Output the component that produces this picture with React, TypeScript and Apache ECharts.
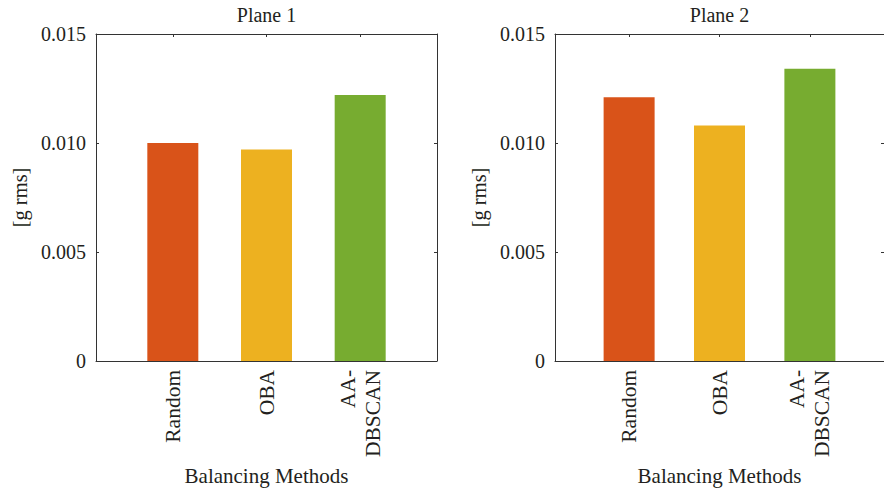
import React, { useEffect, useRef } from "react";
import * as echarts from "echarts";

// Balancing methods compared in each plane
const methods = ["Random", "OBA", "AA-DBSCAN"];
const methodColors = ["#D95319", "#EDB120", "#77AC30"];

// Residual vibration, g rms
const plane1Values = [0.01, 0.0097, 0.0122];
const plane2Values = [0.0121, 0.0108, 0.0134];

const planeTitles = ["Plane 1", "Plane 2"];
const yTicks = [0, 0.005, 0.01, 0.015];

const FONT = "Liberation Serif";
const TEXT = "#231f20";
const AXIS = "#333333";

export default function App() {
  const ref = useRef<HTMLDivElement>(null);

  useEffect(() => {
    if (!ref.current) return;
    const chart = echarts.init(ref.current, undefined, { renderer: "svg" });

    const positions = methods.map((_, i) => i + 1);
    const gridLefts = [96, 555];
    const series = [plane1Values, plane2Values];

    const xAxes: any[] = [];
    const yAxes: any[] = [];
    const grids: any[] = [];
    const barSeries: any[] = [];

    gridLefts.forEach((left, g) => {
      grids.push({ left, top: 32, width: 341, height: 334, containLabel: false });

      const lineStyle = { color: AXIS, width: 1 };
      // bottom category labels
      xAxes.push({
        type: "value",
        gridIndex: g,
        position: "bottom",
        min: 0.18,
        max: 3.82,
        splitLine: { show: false },
        axisLine: { show: true, onZero: false, lineStyle },
        axisTick: { show: true, inside: true, length: 3, customValues: positions, lineStyle },
        axisLabel: {
          customValues: positions,
          rotate: 90,
          margin: 9,
          fontFamily: FONT,
          fontSize: 21.5,
          color: TEXT,
          lineHeight: 25,
          formatter: (v: number) => (methods[Math.round(v) - 1] || "").replace("-", "-\n"),
        },
        name: "Balancing Methods",
        nameLocation: "middle",
        nameGap: 97,
        nameTextStyle: { fontFamily: FONT, fontSize: 21, color: TEXT },
      });
      // top mirror with plot title
      xAxes.push({
        type: "value",
        gridIndex: g,
        position: "top",
        min: 0.18,
        max: 3.82,
        splitLine: { show: false },
        axisLine: { show: true, onZero: false, lineStyle },
        axisTick: { show: true, inside: true, length: 3, customValues: positions, lineStyle },
        axisLabel: { show: false, customValues: positions },
        name: planeTitles[g],
        nameLocation: "middle",
        nameGap: 9,
        nameTextStyle: { fontFamily: FONT, fontSize: 20, color: TEXT },
      });
      yAxes.push({
        type: "value",
        gridIndex: g,
        position: "left",
        min: 0,
        max: 0.015,
        interval: 0.005,
        splitLine: { show: false },
        axisLine: { show: true, onZero: false, lineStyle },
        axisTick: { show: true, inside: true, length: 3, lineStyle },
        axisLabel: {
          margin: 10,
          fontFamily: FONT,
          fontSize: 20,
          color: TEXT,
          formatter: (v: number) => {
            const t = yTicks.find((y) => Math.abs(y - v) < 1e-9);
            return t === 0 ? "0" : (t ?? v).toFixed(3);
          },
        },
        name: "[g rms]",
        nameLocation: "middle",
        nameGap: 66,
        nameRotate: 90,
        nameTextStyle: { fontFamily: FONT, fontSize: 20.5, color: TEXT },
      });
      yAxes.push({
        type: "value",
        gridIndex: g,
        position: "right",
        min: 0,
        max: 0.015,
        interval: 0.005,
        splitLine: { show: false },
        axisLine: { show: true, onZero: false, lineStyle },
        axisTick: { show: true, inside: true, length: 3, lineStyle },
        axisLabel: { show: false },
      });

      barSeries.push({
        type: "bar",
        xAxisIndex: g * 2,
        yAxisIndex: g * 2,
        barWidth: 51,
        data: series[g].map((v, i) => ({
          value: [positions[i], v],
          itemStyle: { color: methodColors[i] },
        })),
      });
    });

    chart.setOption({
      animation: false,
      backgroundColor: "#ffffff",
      grid: grids,
      xAxis: xAxes,
      yAxis: yAxes,
      series: barSeries,
    });

    return () => chart.dispose();
  }, []);

  return (
    <div
      ref={ref}
      style={{ position: "fixed", left: 0, top: 0, width: 884, height: 491 }}
    />
  );
}
